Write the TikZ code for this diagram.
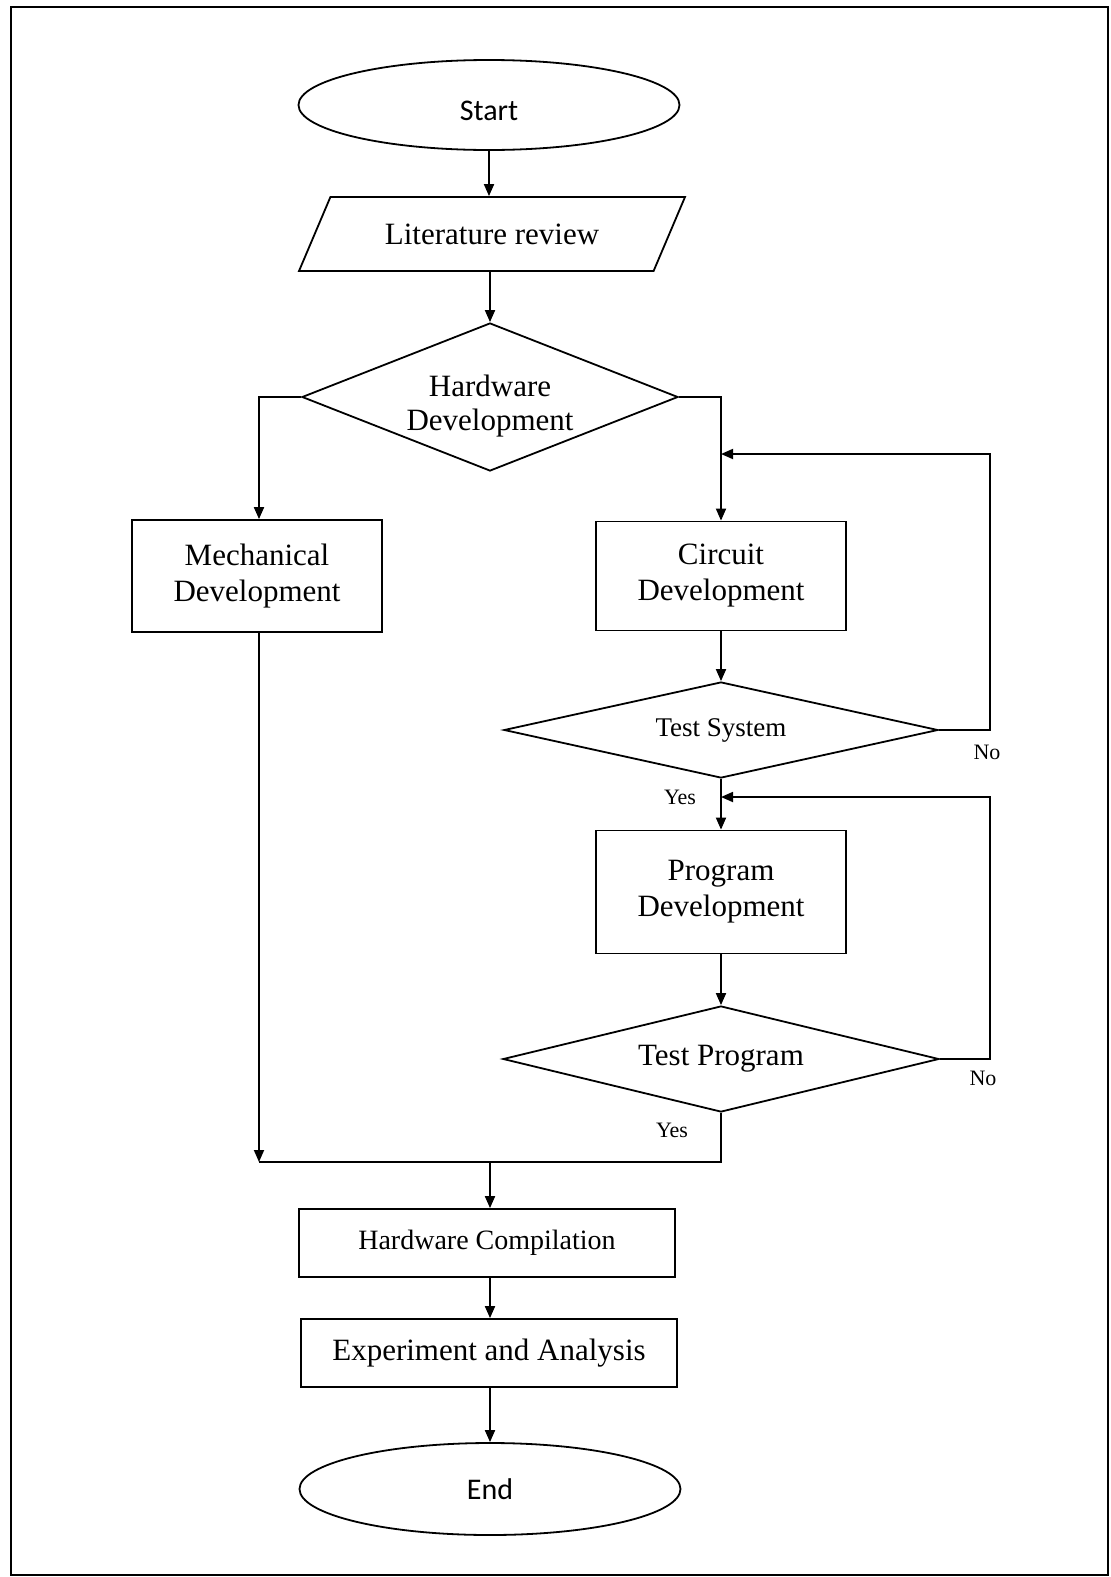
\documentclass[tikz,border=0pt]{standalone}
\usepackage{fontspec}
\setmainfont{Liberation Serif}
\newfontfamily\calibrifont{Carlito}
\usetikzlibrary{positioning,arrows.meta,shapes.geometric}

\begin{document}
\begin{tikzpicture}[
      x=1pt, y=-1pt,
      line width=1.8pt,
      blk/.style={draw, align=center, font=\fontsize{31}{36}\selectfont},
      termnode/.style={blk, ellipse, minimum width=381pt, minimum height=90pt,
                  font=\calibrifont\fontsize{30}{36}\selectfont},
      ionode/.style={blk, trapezium, trapezium left angle=67, trapezium right angle=113,
                  trapezium stretches body, inner ysep=0pt, text height=47pt, text depth=27pt,
                  minimum width=386pt},
      box/.style={blk, rectangle, minimum width=250pt},
      widebox/.style={blk, rectangle, minimum width=376pt, minimum height=68pt},
      decision/.style={blk, diamond, aspect=3, inner sep=0pt},
      lbl/.style={font=\fontsize{22}{26}\selectfont},
      >={Triangle[length=12pt,width=10pt]}]
    \useasboundingbox (0,0) rectangle (1111,1577);
    \draw[line width=2.2pt] (11,7) rectangle (1108,1575);

    \node[termnode, text height=31pt] (start) at (489,105) {Start};
    \node[ionode] (lit) at (492,234) {Literature review};
    \node[decision, aspect=2.5, minimum width=376pt, minimum height=148pt,
          font=\fontsize{31}{34}\selectfont, text height=67pt, text depth=0pt] (hw) at (490,397) {Hardware\\Development};
    \node[box, minimum height=112pt] (mech) at (257,576) {Mechanical\\Development};
    \node[box, minimum height=109pt] (circ) at (721,576) {Circuit\\Development};
    \node[decision, minimum width=434pt, minimum height=96pt,
          font=\fontsize{27}{32}\selectfont] (testsys) at (721,730) {Test System};
    \node[box, minimum height=123pt] (prog) at (721,892) {Program\\Development};
    \node[decision, minimum width=436pt, minimum height=106pt] (testprog) at (721,1059) {Test Program};
    \node[widebox, font=\fontsize{28}{32}\selectfont] (comp) at (487,1243) {Hardware Compilation};
    \node[widebox] (exp) at (489,1353) {Experiment and Analysis};
    \node[termnode, minimum height=92pt] (end) at (490,1489) {End};

    \coordinate (loopa) at (990,454);
    \coordinate (joina) at (721,454);
    \coordinate (loopb) at (990,797);
    \coordinate (joinb) at (721,797);
    \coordinate (mergel) at (259,1162);
    \coordinate (merger) at (490,1162);

    \draw[->] (start) -- (start |- lit.north);
    \draw[->] (hw.north |- lit.south) -- (hw.north);
    \draw[->] (hw.west) -| (mech.north -| mergel);
    \draw[->] (hw.east) -| (circ.north);
    \draw[->] (circ.south) -- (testsys.north);
    \draw[->] (testsys.east) -| (loopa) -- (joina);
    \draw[->] (testsys.south) -- (prog.north);
    \draw[->] (testprog.east) -| (loopb) -- (joinb);
    \draw[->] (prog.south) -- (testprog.north);
    \draw (testprog.south) |- (mergel);
    \draw[->] (mech.south -| mergel) -- (mergel);
    \draw[->] (merger) -- (merger |- comp.north);
    \draw[->] (merger |- comp.south) -- (merger |- exp.north);
    \draw[->] (merger |- exp.south) -- (end);

    \node[lbl] (nosys) at (987,752) {No};
    \node[lbl] (yessys) at (680,797) {Yes};
    \node[lbl] (noprog) at (983,1078) {No};
    \node[lbl] (yesprog) at (672,1130) {Yes};
  \end{tikzpicture}
\end{document}
